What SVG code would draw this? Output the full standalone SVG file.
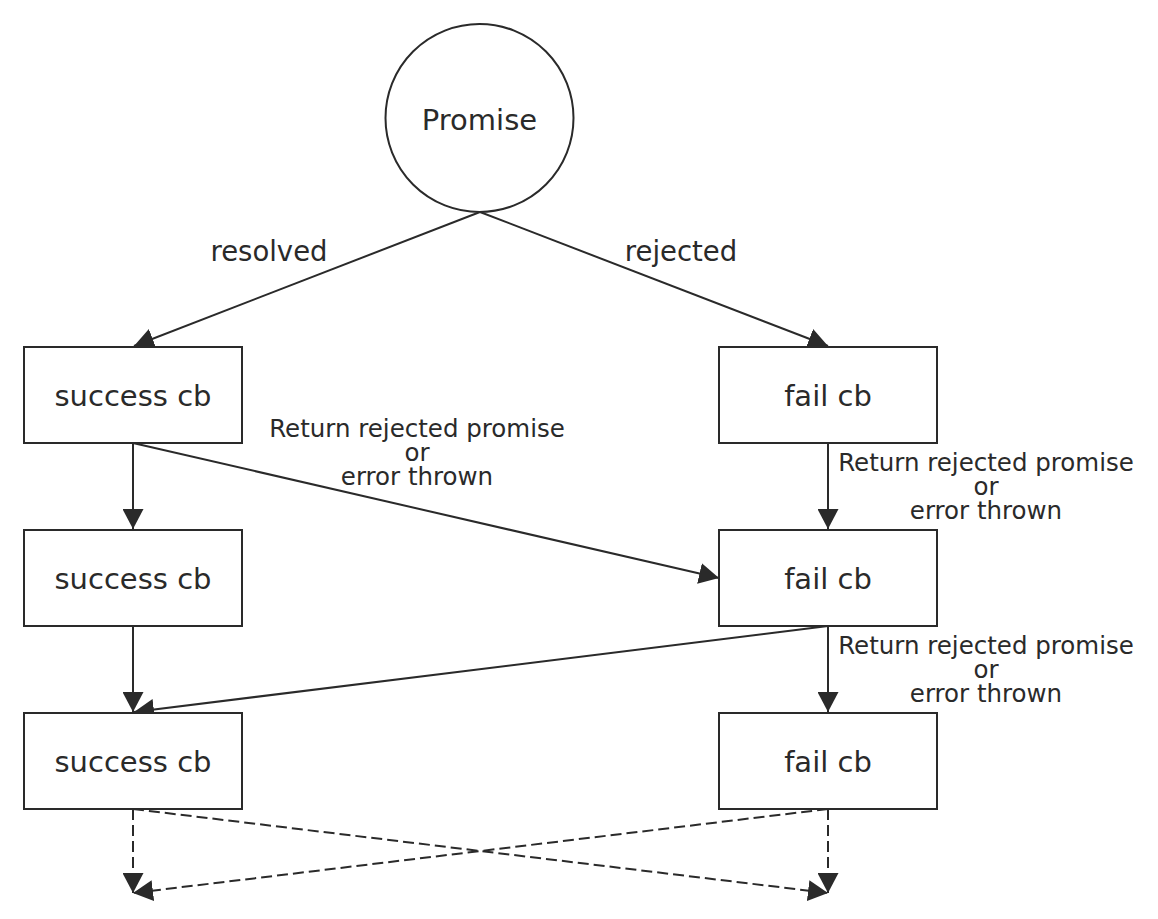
<svg xmlns="http://www.w3.org/2000/svg" width="1158" height="919" viewBox="0 0 1158 919">
<defs>
<style>
.node{fill:#fff;stroke:#2a2a2a;stroke-width:2}
.t{font-family:"DejaVu Sans","Liberation Sans",sans-serif;font-size:29px;fill:#2a2a2a;text-anchor:middle}
.e{font-family:"DejaVu Sans","Liberation Sans",sans-serif;font-size:27.5px;fill:#2a2a2a;text-anchor:middle}
.s{font-family:"DejaVu Sans","Liberation Sans",sans-serif;font-size:24.5px;fill:#2a2a2a;text-anchor:middle}
.c{fill:none;stroke:#2a2a2a;stroke-width:2;marker-end:url(#arr)}
.d{stroke-dasharray:11 5}
</style>
<marker id="arr" viewBox="0 0 20 21" refX="20" refY="10.5" markerWidth="20" markerHeight="21" markerUnits="userSpaceOnUse" orient="auto">
<path d="M0,0 L20,10.5 L0,21 Z" fill="#2a2a2a"/>
</marker>
</defs>
<rect width="1158" height="919" fill="#fff"/>
<g id="connectors">
<line class="c" x1="480" y1="212" x2="134" y2="346"/>
<line class="c" x1="480" y1="212" x2="828" y2="346"/>
<line class="c" x1="133" y1="443" x2="133" y2="529"/>
<line class="c" x1="133" y1="443" x2="719" y2="578"/>
<line class="c" x1="828" y1="443" x2="828" y2="529"/>
<line class="c" x1="133" y1="626" x2="133" y2="712"/>
<line class="c" x1="828" y1="626" x2="134" y2="712"/>
<line class="c" x1="828" y1="626" x2="828" y2="712"/>
<line class="c d" x1="133" y1="809" x2="133" y2="893"/>
<line class="c d" x1="133" y1="809" x2="828" y2="893"/>
<line class="c d" x1="828" y1="809" x2="828" y2="893"/>
<line class="c d" x1="828" y1="809" x2="133" y2="893"/>
<text class="e" x="269" y="261">resolved</text>
<text class="e" x="681" y="261">rejected</text>
<text class="s" x="417" y="437">Return rejected promise</text>
<text class="s" x="417" y="461">or</text>
<text class="s" x="417" y="485">error thrown</text>
<text class="s" x="986" y="471">Return rejected promise</text>
<text class="s" x="986" y="495">or</text>
<text class="s" x="986" y="519">error thrown</text>
<text class="s" x="986" y="654">Return rejected promise</text>
<text class="s" x="986" y="678">or</text>
<text class="s" x="986" y="702">error thrown</text>
</g>
<g id="promise">
<circle class="node" cx="479.5" cy="118" r="94"/>
<text class="t" x="479.5" y="130">Promise</text>
</g>
<g id="success1">
<rect class="node" x="24" y="347" width="218" height="96"/>
<text class="t" x="133" y="406">success cb</text>
</g>
<g id="fail1">
<rect class="node" x="719" y="347" width="218" height="96"/>
<text class="t" x="828" y="406">fail cb</text>
</g>
<g id="success2">
<rect class="node" x="24" y="530" width="218" height="96"/>
<text class="t" x="133" y="589">success cb</text>
</g>
<g id="fail2">
<rect class="node" x="719" y="530" width="218" height="96"/>
<text class="t" x="828" y="589">fail cb</text>
</g>
<g id="success3">
<rect class="node" x="24" y="713" width="218" height="96"/>
<text class="t" x="133" y="772">success cb</text>
</g>
<g id="fail3">
<rect class="node" x="719" y="713" width="218" height="96"/>
<text class="t" x="828" y="772">fail cb</text>
</g>
</svg>
